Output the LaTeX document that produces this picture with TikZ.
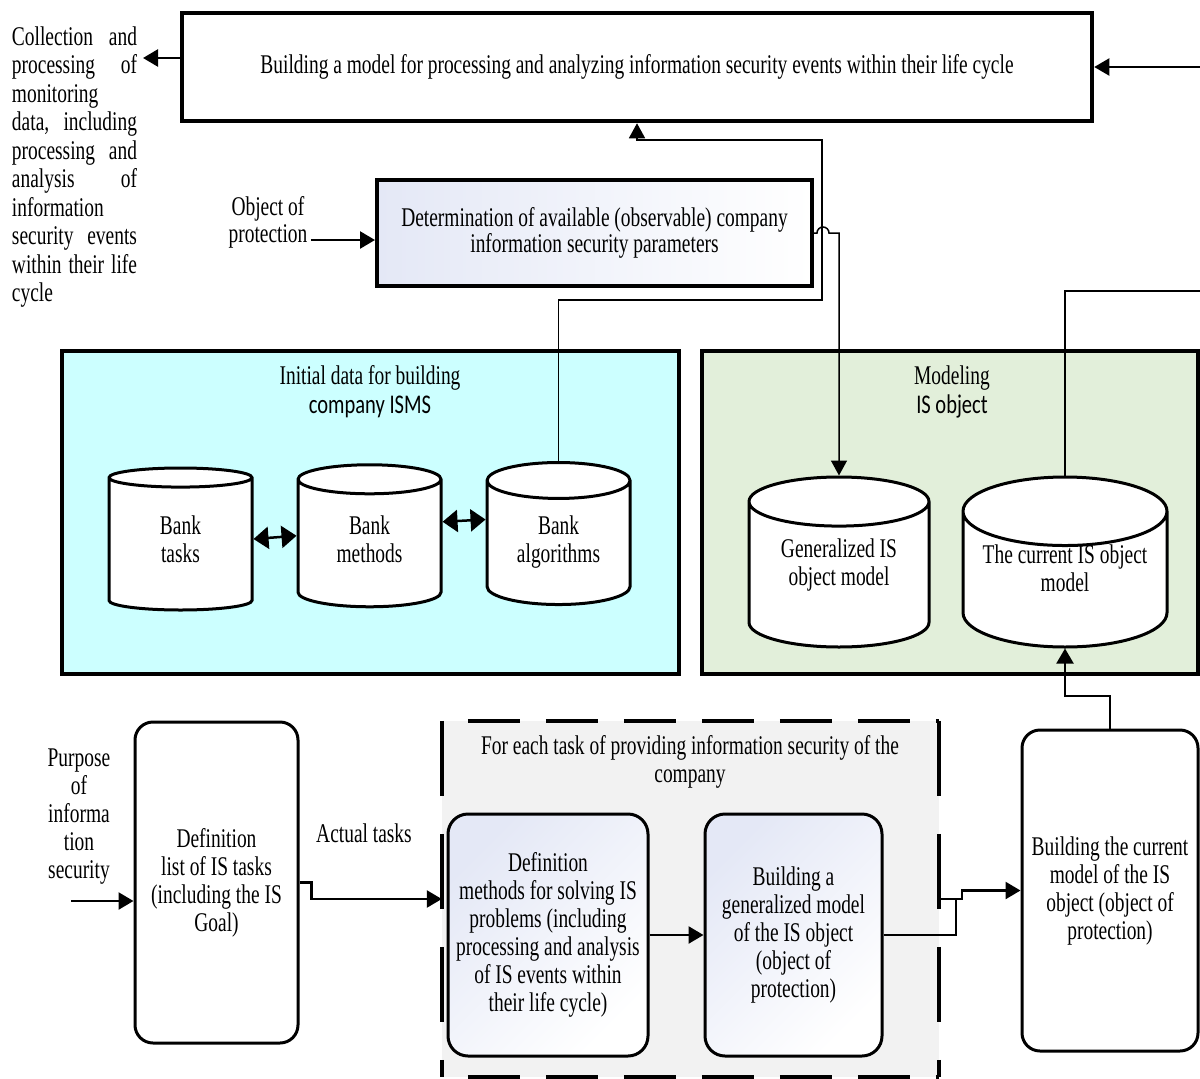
\documentclass[tikz,border=0pt]{standalone}
\usepackage{fontspec}
\setmainfont{Liberation Serif}[FakeStretch=0.72]
\newfontfamily\calibfont{Carlito}[FakeStretch=0.76]
\usetikzlibrary{shapes.geometric, arrows.meta, positioning, calc}
\usepackage{xcolor}
\definecolor{cyanbg}{HTML}{CCFFFF}
\definecolor{greenbg}{HTML}{E2EFDA}
\definecolor{graybg}{HTML}{F2F2F2}
\definecolor{lavbg}{HTML}{E4E8F6}
\newcommand{\jf}{\hspace{0pt plus 1filll}}
\newcommand{\cyltext}[2]{\raisebox{#1}[\height][\depth]{\begin{tabular}{@{}c@{}}#2\end{tabular}}}

\begin{document}
\begin{tikzpicture}[
        x=1pt, y=-1pt,
        font=\fontsize{27}{28}\selectfont,
        mainbox/.style={rectangle, draw, line width=4.5pt, fill=white, minimum width=910pt, minimum height=108pt},
        parambox/.style={rectangle, draw, line width=4pt, left color=lavbg, right color=white, minimum width=435pt, minimum height=106pt, align=center, font=\fontsize{27}{26}\selectfont},
        groupbox/.style={rectangle, draw, line width=3.5pt, minimum height=323pt},
        grouptitle/.style={align=center, font=\fontsize{27}{29}\selectfont},
        bank/.style={cylinder, shape border rotate=90, aspect=0.4, draw, line width=3pt, fill=white, align=center, minimum width=143pt, minimum height=142pt, anchor=shape center},
        stage/.style={rectangle, rounded corners=18pt, draw, line width=3pt, fill=white, align=center},
        shadedstage/.style={stage, rounded corners=20pt, left color=lavbg, right color=white, shading angle=45},
        note/.style={align=center},
        conn/.style={line width=1.5pt},
        thinarrow/.style={line width=1.5pt, -{Triangle[length=15pt, width=16pt]}},
        arrow/.style={line width=2.5pt, -{Triangle[length=15pt, width=17pt]}},
        biarrow/.style={line width=2.5pt, {Triangle[length=15pt, width=22pt]}-{Triangle[length=15pt, width=22pt]}},
        dashh/.style={line width=3.5pt, dash pattern=on 52pt off 26pt, dash phase=52pt},
        dashv/.style={line width=3.5pt, dash pattern=on 75pt off 38pt},
    ]
    \useasboundingbox (0,0) rectangle (1200,1079);

    % top part
    \node [mainbox] (model) at (637,67) {Building a model for processing and analyzing information security events within their life cycle};
    \node [note, text width=125pt, align=left, font=\fontsize{27}{28.5}\selectfont] (collect) at (74.5,167) {Collection\jf and\\ processing\jf of\\ monitoring\\ data,\jf including\\ processing\jf and\\ analysis\jf of\\ information\\ security\jf events\\ within\jf their\jf life\\ cycle};
    \node [parambox] (param) at (594.5,233) {Determination of available (observable) company\\information security parameters};
    \node [note, font=\fontsize{27}{27}\selectfont] (object) at (268,222) {Object of\\protection};

    % data banks and models
    \node [groupbox, fill=cyanbg, minimum width=617pt] (initial) at (370.5,512.5) {};
    \node [grouptitle] (initialtitle) at (370,392) {Initial data for building\\{\calibfont company ISMS}};
    \node [groupbox, fill=greenbg, minimum width=496pt] (modeling) at (950,512.5) {};
    \node [grouptitle] (modelingtitle) at (952,392) {Modeling\\{\calibfont IS object}};

    \node [bank] (tasks) at (180.5,539) {\cyltext{3pt}{Bank\\tasks}};
    \node [bank, right=43pt of tasks] (methods) {\cyltext{3pt}{Bank\\methods}};
    \node [bank, right=43pt of methods] (algos) {\cyltext{3pt}{Bank\\algorithms}};
    \node [bank, minimum width=180pt, minimum height=170pt] (genmodel) at (839,562) {\cyltext{12pt}{Generalized IS\\object model}};
    \node [bank, minimum width=204pt, minimum height=170pt] (curmodel) at (1065,562) {\cyltext{12pt}{The current IS object\\model}};

    % bottom part
    \node [note] (purpose) at (79,817) {Purpose\\of\\informa\\tion\\security};
    \node [stage, minimum width=163pt, minimum height=321pt] (deflist) at (216.5,882.5) {Definition\\list of IS tasks\\(including the IS\\Goal)};
    \node [note] (actual) at (364,833) {Actual tasks};

    \node [fill=graybg, minimum width=497pt, minimum height=356pt] (foreach) at (690.5,899) {};
    \draw [dashh] (foreach.north west) -- (foreach.north east);
    \draw [dashh] (foreach.south west) -- (foreach.south east);
    \draw [dashv] (foreach.north west) -- (foreach.south west) (foreach.north east) -- (foreach.south east);
    \node [note] (foreachtitle) at (690,762) {For each task of providing information security of the\\company};

    \node [shadedstage, minimum width=200pt, minimum height=242pt] (defmeth) at (548,935) {Definition\\methods for solving IS\\problems (including\\processing and analysis\\of IS events within\\their life cycle)};
    \node [shadedstage, minimum width=177pt, minimum height=242pt] (genbuild) at (793.5,935) {Building a\\generalized model\\of the IS object\\(object of\\protection)};
    \node [stage, minimum width=176pt, minimum height=321pt] (curbuild) at (1110,890.5) {Building the current\\model of the IS\\object (object of\\protection)};

    % connectors
    \coordinate (collectin) at (143,58);
    \coordinate (rightturn) at (1215,291);
    \coordinate (algturn) at (822,300);
    \coordinate (modelin) at (637,140);
    \coordinate (purposeout) at (71,901);
    \coordinate (joint) at (956,899);

    \draw [arrow] ([yshift=9pt]model.west) -- (collectin);
    \draw [arrow, line width=2pt] (curmodel.north) |- (rightturn) |- (model.east);
    \draw [thinarrow] (algos.north) |- (algturn) |- (modelin) -- (model.south);
    \draw [thinarrow] (param.east) -- ++(3,0) arc[start angle=180, end angle=0, radius=6pt] -| (genmodel.north);
    \draw [arrow] ([yshift=-7pt]param.west -| object.east) -- ([yshift=-7pt]param.west);
    \draw [biarrow] (tasks.east |- tasks.shape center) -- (methods.west |- methods.shape center);
    \draw [biarrow] ([yshift=14pt]methods.east |- methods.shape center) -- ([yshift=14pt]algos.west |- algos.shape center);

    \draw [arrow] (purposeout) -- (purposeout -| deflist.west);
    \draw [arrow] (deflist.east) -- ++(12,0) |- (foreach.west);
    \draw [arrow] (defmeth) -- (genbuild);
    \draw [conn] (genbuild.east) -| (joint);
    \draw [arrow] (foreach.east) -- ++(23,0) |- (curbuild.west);
    \draw [arrow, line width=2pt] (curbuild.north) -- ++(0,-33) -| (curmodel.south);
\end{tikzpicture}
\end{document}
